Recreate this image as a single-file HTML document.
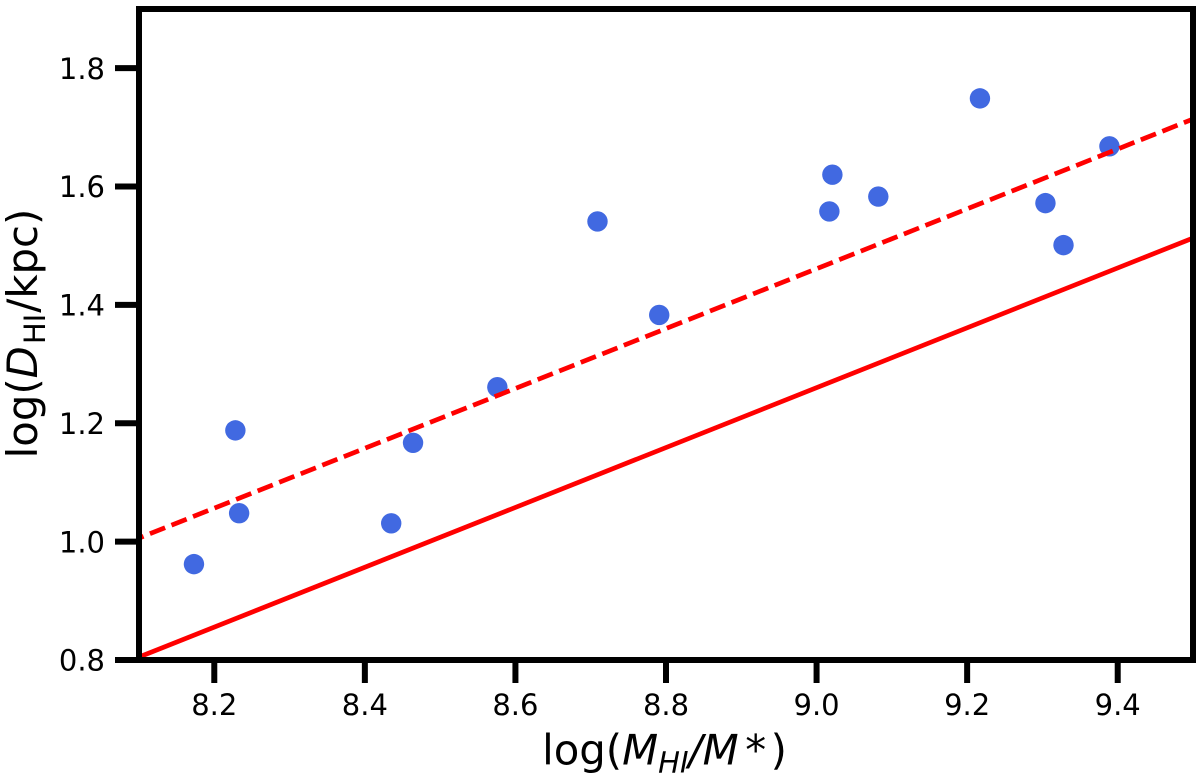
<!DOCTYPE html>
<html>
<head>
<meta charset="utf-8">
<title>Scatter chart</title>
<style>
html,body{margin:0;padding:0;background:#fff;width:1200px;height:779px;overflow:hidden}
svg{display:block}
text{font-family:"DejaVu Sans",sans-serif;fill:#000}
</style>
</head>
<body>
<svg id="chart" width="1200" height="779" viewBox="0 0 1200 779" xmlns="http://www.w3.org/2000/svg">
  <defs><clipPath id="plot-clip"><rect x="139" y="9" width="1054" height="651"/></clipPath></defs>
  <rect x="0" y="0" width="1200" height="779" fill="#fff"/>
  <g id="points" clip-path="url(#plot-clip)"></g>
  <g id="lines" clip-path="url(#plot-clip)"></g>
  <g id="xticks"></g>
  <g id="yticks"></g>
  <rect x="139" y="9" width="1054" height="651" fill="none" stroke="#000" stroke-width="6"/>
  <text x="664.5" y="764.5" font-size="41.8" text-anchor="middle">log(<tspan font-style="italic">M</tspan><tspan font-style="italic" font-size="29" dy="8">HI</tspan><tspan font-style="italic" dy="-8">/M</tspan><tspan dx="6.5">*</tspan><tspan dx="4.5">)</tspan></text>
  <text transform="translate(37,333.5) rotate(-90)" font-size="41.8" text-anchor="middle">log(<tspan font-style="italic">D</tspan><tspan font-size="29" dx="2" dy="8">HI</tspan><tspan dx="1" dy="-8">/kpc)</tspan></text>
</svg>
<script>
var pointX = [8.173, 8.228, 8.233, 8.435, 8.464, 8.576, 8.709, 8.791, 9.017, 9.021, 9.082, 9.217, 9.304, 9.328, 9.389];
var pointY = [0.962, 1.188, 1.048, 1.031, 1.167, 1.261, 1.541, 1.383, 1.558, 1.620, 1.583, 1.749, 1.572, 1.501, 1.668];
var lineX = [8.1, 9.5];
var solidLineY = [0.805, 1.513];
var dashedLineY = [1.006, 1.714];
var xTickLabels = ['8.2', '8.4', '8.6', '8.8', '9.0', '9.2', '9.4'];
var yTickLabels = ['0.8', '1.0', '1.2', '1.4', '1.6', '1.8'];

var NS = 'http://www.w3.org/2000/svg';
function xScale(v) { return 139 + (v - 8.1) * (1054 / 1.4); }
function yScale(v) { return 660 - (v - 0.8) * (651 / 1.1); }
function make(tag, attrs) {
  var el = document.createElementNS(NS, tag);
  for (var k in attrs) { el.setAttribute(k, attrs[k]); }
  return el;
}

var pointsGroup = document.getElementById('points');
pointX.forEach(function (x, i) {
  var c = make('circle', { cx: xScale(x), cy: yScale(pointY[i]), r: 10.2, fill: '#4169e1' });
  
  
  pointsGroup.appendChild(c);
});

var linesGroup = document.getElementById('lines');
var solid = make('line', { x1: xScale(lineX[0]), y1: yScale(solidLineY[0]), x2: xScale(lineX[1]), y2: yScale(solidLineY[1]), stroke: '#ff0000', 'stroke-width': 4.7 });


linesGroup.appendChild(solid);
var dashed = make('line', { x1: xScale(lineX[0]), y1: yScale(dashedLineY[0]), x2: xScale(lineX[1]), y2: yScale(dashedLineY[1]), stroke: '#ff0000', 'stroke-width': 4.7, 'stroke-dasharray': '16.3 6.88', 'stroke-dashoffset': 11.4 });


linesGroup.appendChild(dashed);

var xTicks = document.getElementById('xticks');
xTickLabels.forEach(function (label) {
  var px = xScale(parseFloat(label));
  var tick = make('line', { x1: px, y1: 660, x2: px, y2: 683, stroke: '#000', 'stroke-width': 6 });
  
  
  xTicks.appendChild(tick);
  var t = make('text', { x: px, y: 715, 'font-size': 29, 'text-anchor': 'middle' });
  
  
  t.textContent = label;
  xTicks.appendChild(t);
});

var yTicks = document.getElementById('yticks');
yTickLabels.forEach(function (label) {
  var py = yScale(parseFloat(label));
  var tick = make('line', { x1: 115, y1: py, x2: 139, y2: py, stroke: '#000', 'stroke-width': 6 });
  
  
  yTicks.appendChild(tick);
  var t = make('text', { x: 105, y: py + 10.7, 'font-size': 29, 'text-anchor': 'end' });
  
  
  t.textContent = label;
  yTicks.appendChild(t);
});
</script>
</body>
</html>
